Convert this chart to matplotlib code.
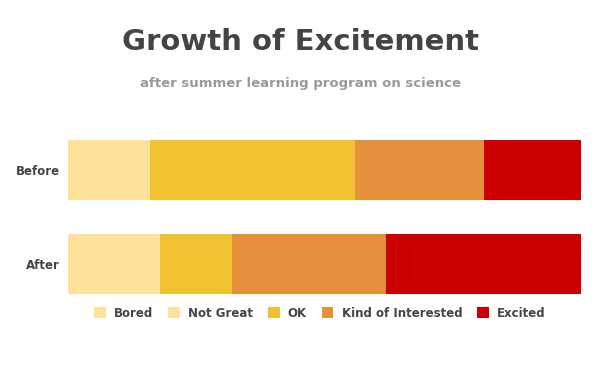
import matplotlib
matplotlib.use("Agg")
import matplotlib.pyplot as plt
from matplotlib.patches import Patch

# Survey data (percent of students)
groups = ["After", "Before"]
series = ["Bored", "Not Great", "OK", "Kind of Interested", "Excited"]
bored = [6, 4]
not_great = [12, 12]
ok = [14, 40]
kind_of = [30, 25]
excited = [38, 19]
colors = ["#FEE29A", "#FEE29A", "#F0C232", "#E5903A", "#CC0000"]

plt.rcParams["font.family"] = ["DejaVu Sans"]

fig = plt.figure(figsize=(6, 3.71), dpi=100)
ax = fig.add_axes([0.1133, 0.2075, 0.855, 0.415])

values = [bored, not_great, ok, kind_of, excited]
y = list(range(len(groups)))
left = [0] * len(groups)
for name, vals, c in zip(series, values, colors):
    ax.barh(y, vals, left=left, height=0.64, color=c, edgecolor="none", label=name)
    left = [l + v for l, v in zip(left, vals)]

ax.set_xlim(0, 100)
ax.set_ylim(-0.32, 1.32)
ax.set_yticks(y)
ax.set_yticklabels(groups, fontsize=8.5, fontweight="bold", color="#444444")
ax.set_xticks([])
ax.tick_params(axis="y", length=0, pad=6)
for s in ax.spines.values():
    s.set_visible(False)

fig.text(0.5, 0.886, "Growth of Excitement", ha="center", va="center",
         fontsize=21, fontweight="bold", color="#444444")
fig.text(0.5, 0.775, "after summer learning program on science", ha="center",
         va="center", fontsize=9.5, fontweight="bold", color="#999999")

handles = [Patch(facecolor=c, edgecolor="none") for c in colors]
fig.legend(handles, series, loc="center", bbox_to_anchor=(0.533, 0.156), ncol=5,
           frameon=False, handlelength=1.0, handleheight=1.0, handletextpad=0.7,
           columnspacing=1.25, prop={"weight": "bold", "size": 8.5})
for t in fig.legends[0].get_texts():
    t.set_color("#444444")

fig.savefig("out.png", dpi=100)
